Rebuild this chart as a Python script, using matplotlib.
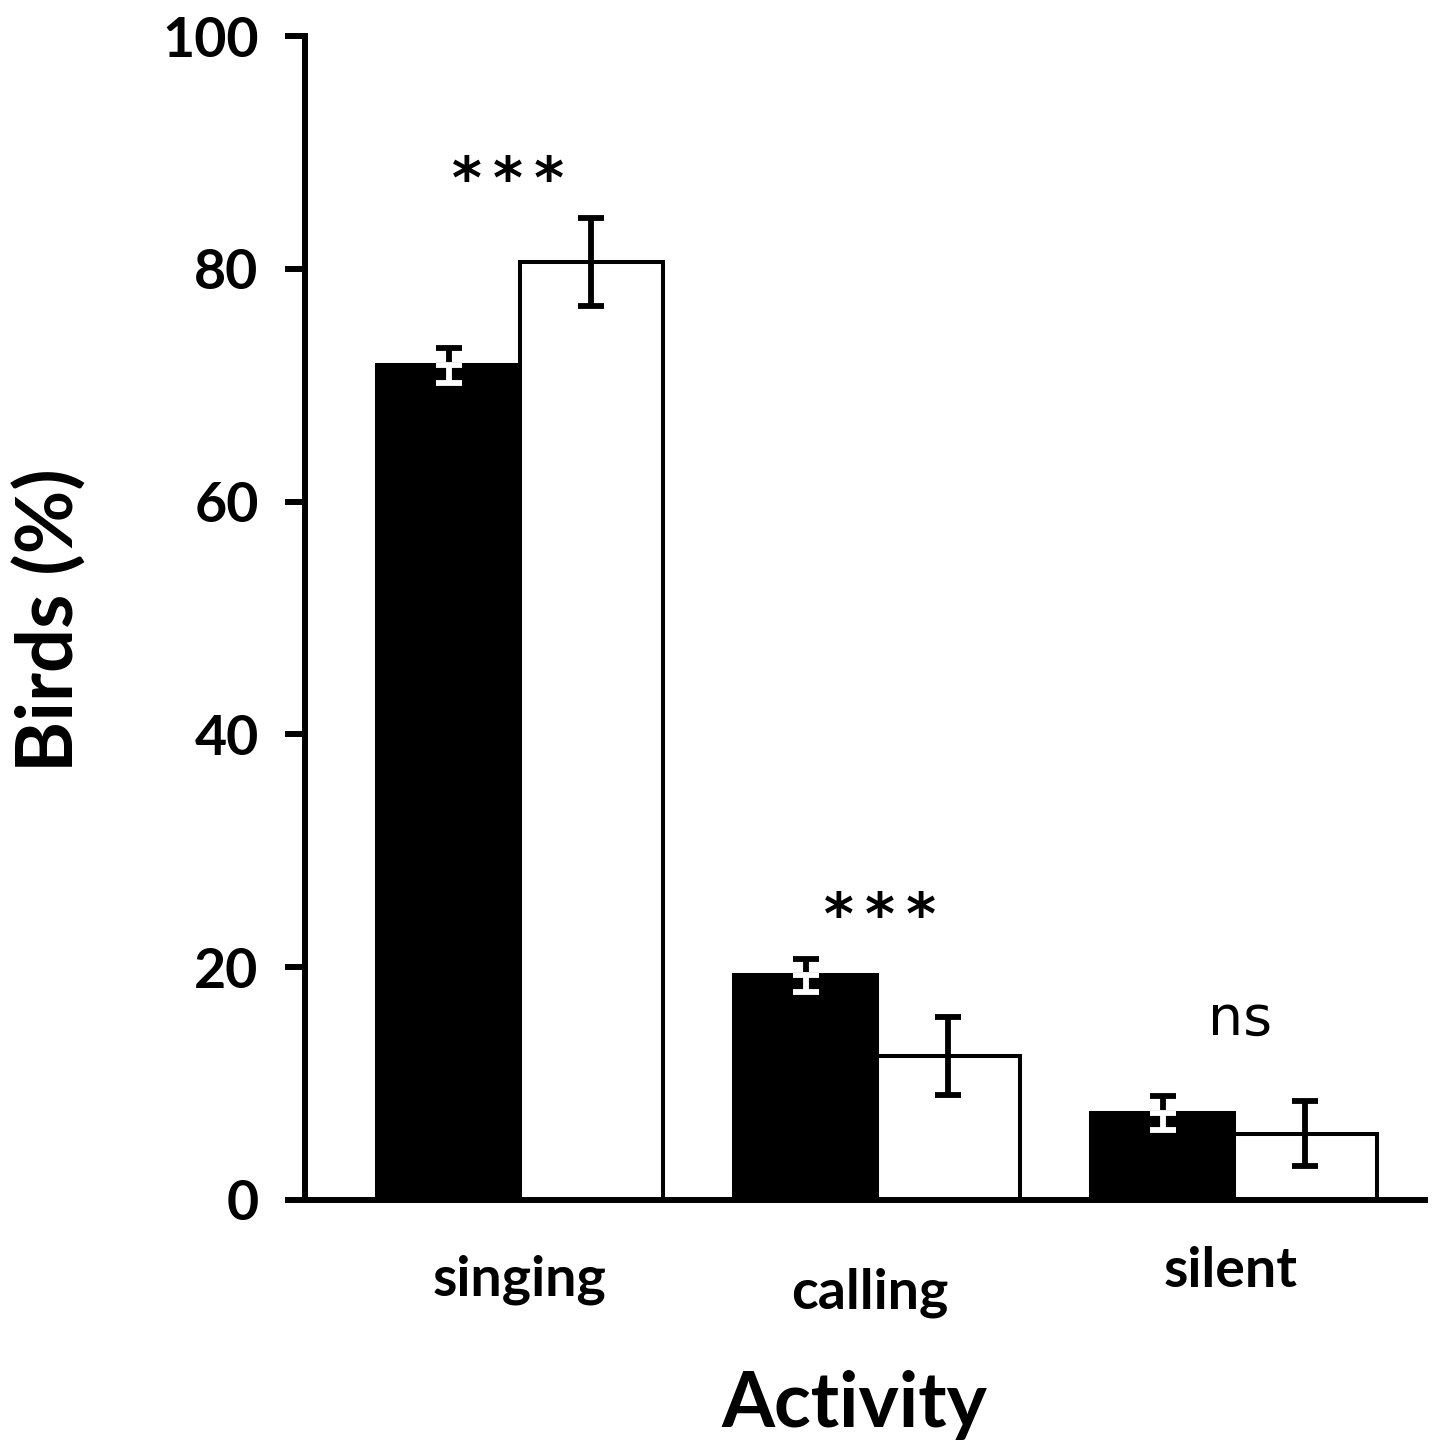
import numpy as np
import matplotlib
matplotlib.use("Agg")
import matplotlib.pyplot as plt
import matplotlib.transforms as mtransforms

plt.rcParams['font.family'] = ['Lato', 'DejaVu Sans']

# data
activities = ["singing", "calling", "silent"]
black_vals = [71.7, 19.3, 7.5]
black_err = [1.5, 1.4, 1.45]
white_vals = [80.6, 12.4, 5.7]
white_err = [3.8, 3.35, 2.8]
signif = ["*\u2009*\u2009*", "*\u2009*\u2009*", "ns"]

fig = plt.figure(figsize=(14.34, 14.43), dpi=100)
ax = fig.add_axes([0.2127, 0.1684, 0.781, 0.8066])

x = np.arange(len(activities))
w = 0.4

# bars
ax.bar(x - w / 2, black_vals, w, color="black", edgecolor="black", linewidth=2.9, zorder=2)
ax.bar(x + w / 2, white_vals, w, color="white", edgecolor="black", linewidth=2.9, zorder=2)

ekw = dict(fmt="none", elinewidth=4.2, capsize=9.7, capthick=4.2, zorder=3)
# error bars on black bars: upper part black, lower part white (inside the bar)
ax.errorbar(x - w / 2, black_vals, yerr=[np.zeros(3), black_err], ecolor="black", **ekw)
ax.errorbar(x - w / 2, black_vals, yerr=[black_err, np.zeros(3)], ecolor="white", **ekw)
ax.errorbar(x + w / 2, white_vals, yerr=white_err, ecolor="black", **ekw)

ax.set_ylim(0, 100)
ax.set_xlim(-0.602, 2.535)

ax.spines["top"].set_visible(False)
ax.spines["right"].set_visible(False)
ax.spines["left"].set_linewidth(4.3)
ax.spines["bottom"].set_linewidth(4.3)

ax.set_yticks([0, 20, 40, 60, 80, 100])
ax.tick_params(axis="y", length=14.4, width=4.3, pad=19, labelsize=40)
for lbl in ax.get_yticklabels():
    lbl.set_fontweight("bold")
ax.set_xticks([])

# category labels sit at slightly different heights
trans = mtransforms.blended_transform_factory(ax.transData, fig.transFigure)
lab_x = [0.0, 0.98, 1.99]
lab_y = [0.113, 0.104, 0.119]
for lx, ly, name in zip(lab_x, lab_y, activities):
    ax.text(lx, ly, name, transform=trans, ha="center", va="center",
            fontsize=40, fontweight="bold")

# significance marks
sig_x = [-0.034, 1.008, 2.017]
sig_y = [87.4, 24.2, 15.5]
for sx, sy, s in zip(sig_x, sig_y, signif):
    if s == "ns":
        ax.text(sx, sy, s, ha="center", va="center", fontsize=40, family=["DejaVu Sans"])
    else:
        ax.text(sx, sy, s, ha="center", va="center", fontsize=41, fontweight="bold",
                family=["DejaVu Sans"])

fig.text(0.035, 0.57, "Birds (%)", rotation=90, ha="center", va="center",
         fontsize=56, fontweight="bold")
fig.text(0.596, 0.026, "Activity", ha="center", va="center",
         fontsize=55, fontweight="bold")

fig.savefig("out.png", dpi=100)
